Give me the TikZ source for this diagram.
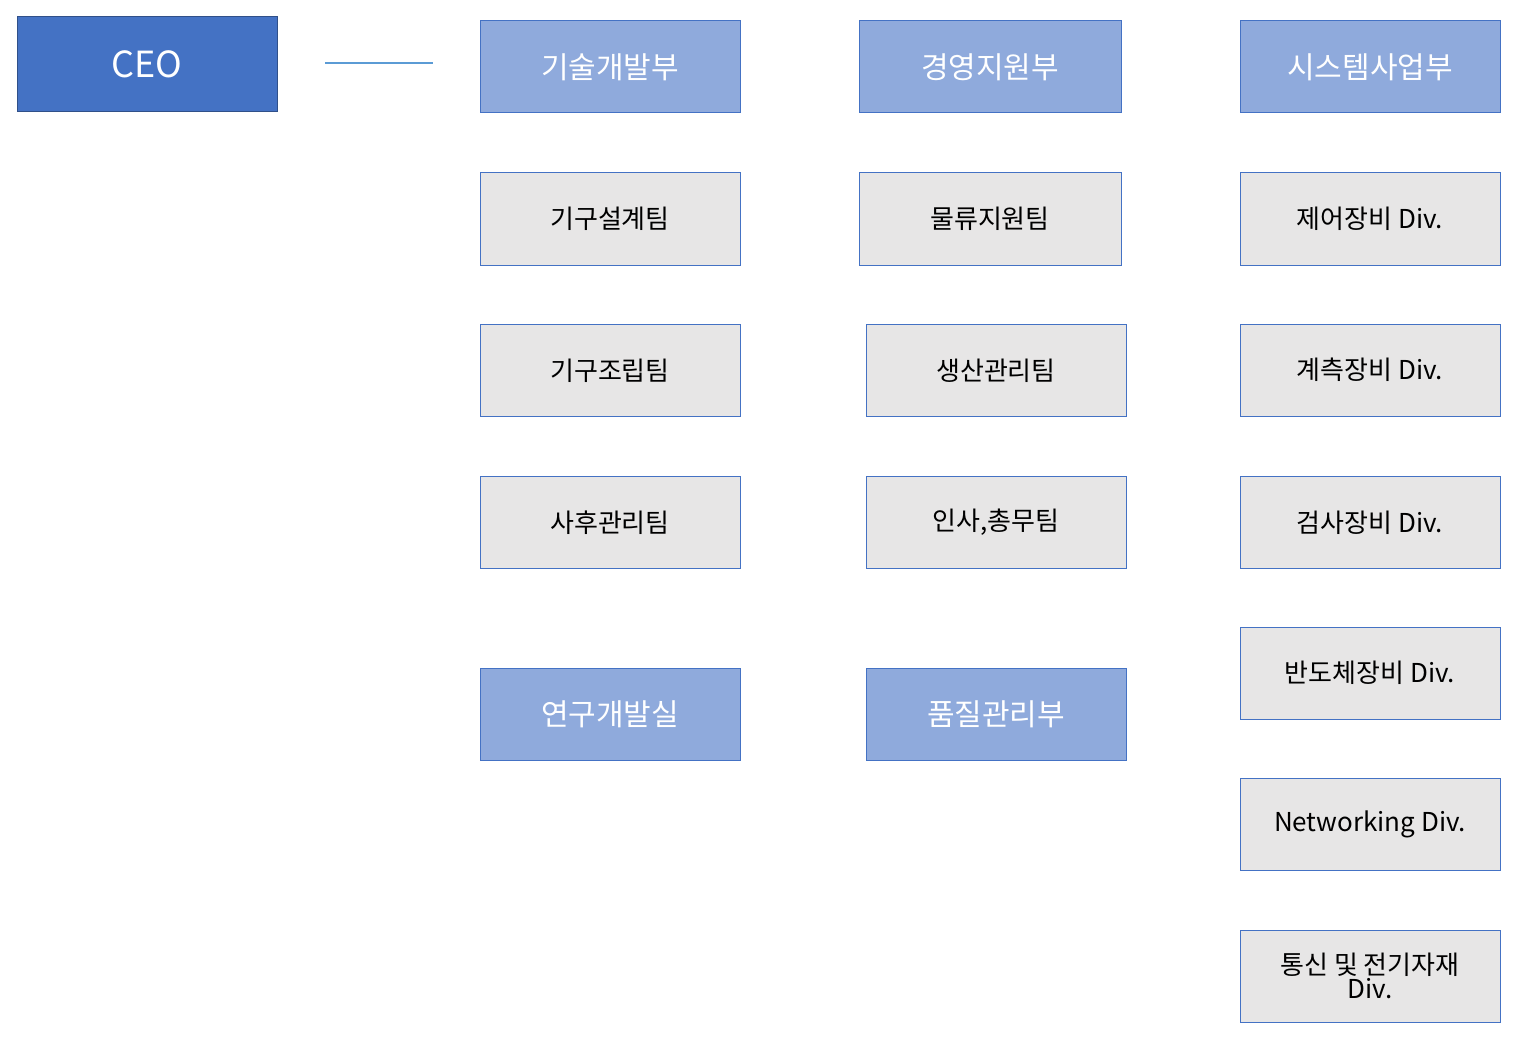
\documentclass[tikz,border=0pt]{standalone}
\usepackage{fontspec}
\setmainfont{Noto Sans CJK KR}
\usetikzlibrary{positioning}
\definecolor{ceoblue}{HTML}{4472C4}
\definecolor{deptblue}{HTML}{8FAADC}
\definecolor{teamgray}{HTML}{E7E6E6}
\definecolor{linkblue}{HTML}{5B9BD5}
\tikzset{
  ceobox/.style={draw=ceoblue!70!black, fill=ceoblue, text=white, minimum width=260pt, minimum height=95pt, font=\fontsize{36}{40}\selectfont, line width=1pt},
  deptbox/.style={draw=ceoblue, fill=deptblue, text=white, minimum width=260pt, minimum height=92pt, font=\fontsize{30}{34}\selectfont, line width=1pt},
  teambox/.style={draw=ceoblue, fill=teamgray, text=black, minimum width=260pt, minimum height=92pt, font=\fontsize{26}{30}\selectfont, line width=1pt, align=center}
}
\begin{document}
\begin{tikzpicture}[x=1pt, y=-1pt]
  \useasboundingbox (0,0) rectangle (1521,1046);
  \node[ceobox] (ceo) at (147,64.5) {CEO};
  \coordinate (lineA) at (325,63); \coordinate (lineB) at (433,63);
  \draw[linkblue, line width=1.5pt] (lineA) -- (lineB);
  % tech column
  \node[deptbox] (tech) at (610,67) {기술개발부};
  \node[teambox] (design) at (610,219) {기구설계팀};
  \node[teambox] (assembly) at (610,370.5) {기구조립팀};
  \node[teambox] (service) at (610,522.5) {사후관리팀};
  \node[deptbox] (research) at (610,714.5) {연구개발실};
  % management column
  \node[deptbox, minimum width=262pt] (mgmt) at (990,67) {경영지원부};
  \node[teambox, minimum width=262pt] (logistics) at (990,219) {물류지원팀};
  \node[teambox] (production) at (996,370.5) {생산관리팀};
  \node[teambox] (hr) at (996,522.5) {인사,총무팀};
  \node[deptbox] (quality) at (996,714.5) {품질관리부};
  % system column
  \node[deptbox] (system) at (1370,67) {시스템사업부};
  \node[teambox] (control) at (1370,219) {제어장비 Div.};
  \node[teambox] (measure) at (1370,370) {계측장비 Div.};
  \node[teambox] (inspect) at (1370,522.5) {검사장비 Div.};
  \node[teambox] (semi) at (1370,673) {반도체장비 Div.};
  \node[teambox] (network) at (1370,824.5) {Networking Div.};
  \node[teambox] (telecom) at (1370,976) {통신 및 전기자재\\[-6pt]Div.};
\end{tikzpicture}
\end{document}
